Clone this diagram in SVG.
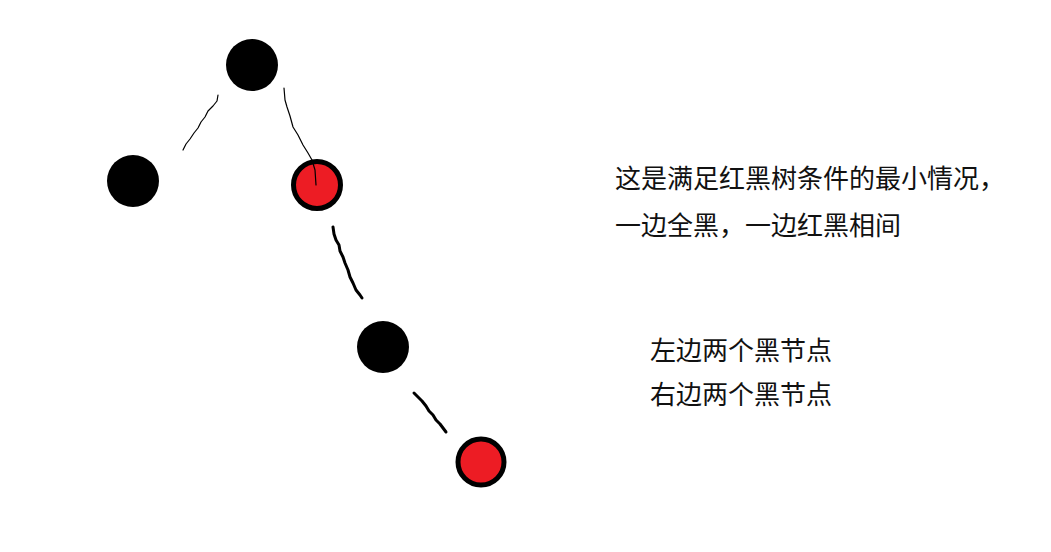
<svg xmlns="http://www.w3.org/2000/svg" width="1051" height="552" viewBox="0 0 1051 552">
<style>
.blk{fill:#000}
.red{fill:#ED1C24;stroke:#000;stroke-width:5}
.thin{fill:none;stroke:#000;stroke-width:1.2;stroke-linecap:round;stroke-linejoin:round}
.thick{fill:none;stroke:#000;stroke-width:3;stroke-linecap:round;stroke-linejoin:round}
text{font-family:"Noto Sans CJK SC","Noto Sans",sans-serif;font-size:26px;fill:#111}
</style>
<rect width="1051" height="552" fill="#fff"/>
<g id="n1"><circle class="blk" cx="252" cy="65" r="26"/></g>
<g id="n2"><circle class="blk" cx="133" cy="181" r="26"/></g>
<g id="n3"><circle class="red" cx="317" cy="185" r="23.5"/></g>
<g id="n4"><circle class="blk" cx="383" cy="347" r="26"/></g>
<g id="n5"><circle class="red" cx="481" cy="462" r="23"/></g>
<g id="connectors">
<path class="thin" d="M218,95 L217,101 L213,106 L208,111 L205,117 L201,122 L198,128 L194,133 L190,139 L186,144 L183,150"/>
<path class="thin" d="M284,88 L285,100 L287,107 L290,116 L293,127 L298,135 L303,145 L308,153 L312,160 L315,170 L316,185"/>
<path class="thick" d="M333,227 L334,234 L336,240 L339,245 L340,251 L343,257 L345,263 L348,270 L350,277 L353,283 L356,290 L360,295 L362,298"/>
<path class="thick" d="M414,393 L418,397 L422,401 L426,406 L429,411 L433,415 L436,420 L440,424 L443,428 L446,432"/>
</g>
<g id="labels">
<text x="615" y="188">这是满足红黑树条件的最小情况，</text>
<text x="615" y="235">一边全黑，一边红黑相间</text>
<text x="650" y="360">左边两个黑节点</text>
<text x="650" y="404">右边两个黑节点</text>
</g>
</svg>
